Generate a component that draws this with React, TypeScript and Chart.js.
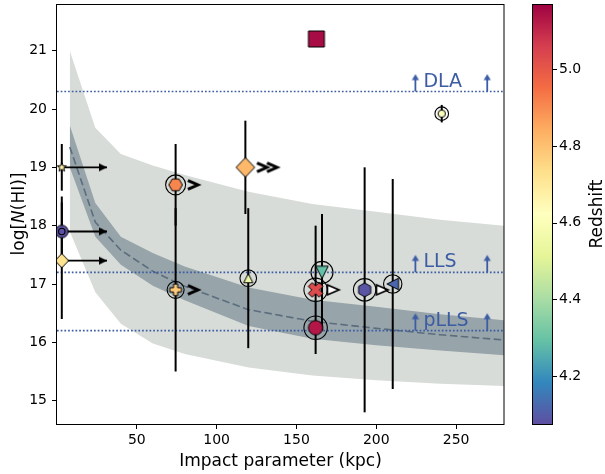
import React, { useEffect, useRef } from 'react';
import { Chart, registerables } from 'chart.js';

Chart.register(...registerables);

const FONT = "'DejaVu Sans', 'Liberation Sans', sans-serif";

// ---------------- data ----------------
const X_MIN = 0;
const X_MAX = 280;
const Y_MIN = 14.6;
const Y_MAX = 21.8;
const X_TICKS = [50, 100, 150, 200, 250];
const Y_TICKS = [15, 16, 17, 18, 19, 20, 21];
const Z_MIN = 4.075;
const Z_MAX = 5.17;
const Z_TICKS = [4.2, 4.4, 4.6, 4.8, 5.0];

// model envelope (impact parameter vs log N(HI))
const BAND_X = [8, 24, 40, 60, 80, 120, 160, 200, 240, 280];
const OUTER_UPPER = [21.0, 19.68, 19.23, 19.03, 18.87, 18.58, 18.37, 18.24, 18.1, 18.0];
const INNER_UPPER = [19.72, 18.39, 17.81, 17.53, 17.3, 16.94, 16.73, 16.61, 16.48, 16.38];
const MEDIAN_NHI = [19.35, 18.06, 17.58, 17.22, 16.96, 16.56, 16.36, 16.24, 16.13, 16.04];
const INNER_LOWER = [19.0, 17.81, 17.33, 16.97, 16.72, 16.28, 16.06, 15.95, 15.86, 15.78];
const OUTER_LOWER = [17.9, 16.86, 16.32, 15.98, 15.8, 15.57, 15.43, 15.35, 15.29, 15.25];

// galaxies / absorbers
const GAL_B = [3, 3, 3, 74.3, 118, 74.3, 119.8, 162.5, 166, 162, 162, 192.7, 210.3, 241];
const GAL_NHI = [19.0, 17.9, 17.4, 18.7, 19.0, 16.9, 17.1, 21.2, 17.2, 16.9, 16.25, 16.9, 17.0, 19.92];
const GAL_ERR = [0.4, 0.6, 1.0, 0.7, 0.8, 1.4, 1.2, 0, 1.0, 1.1, 0, 2.1, 1.8, 0.15];
const GAL_Z = [4.68, 4.08, 4.72, 4.91, 4.82, 4.78, 4.55, 5.15, 4.29, 5.03, 5.13, 4.085, 4.12, 4.61];
const ARROW_TIP_B = 31.3;

// column density thresholds
const LIMIT_NAMES = ['DLA', 'LLS', 'pLLS'];
const LIMIT_NHI = [20.3, 17.2, 16.2];
const LIMIT_ARROW_B = [224.5, 269.5];
const LIMIT_ARROW_LEN = 0.29;
const LIMIT_LABEL_B = 229.5;

// ---------------- styles ----------------
const MARKER_SHAPE = ['star', 'circle', 'diamond', 'hexFlat', 'diamond', 'plus', 'triUp', 'square', 'triDown', 'x', 'circle', 'hex', 'triLeft', 'circle'];
const MARKER_SIZE = [4.8, 6.3, 6.8, 6.8, 9.3, 5.8, 4.6, 8, 6.2, 7.3, 7.2, 7, 5.8, 3.7];
const RING_SIZE = [0, 3.2, 0, 10, 0, 8.5, 8.3, 0, 11, 11.7, 11.7, 11.2, 9.2, 6.8];
const MARKER_TAG = ['arrow', 'arrow', 'arrow', 'chev', 'chev2', 'chev', '', '', '', 'open', '', 'open', '', ''];

const LIGHT = '#d8dcd8';
const DARK = '#97a4a9';
const MEDIAN_COLOR = '#5b6d7e';
const LIMIT_COLOR = '#3c5ca4';

const SPECTRAL_R = ['#5e4fa2', '#3288bd', '#66c2a5', '#abdda4', '#e6f598', '#ffffbf', '#fee08b', '#fdae61', '#f46d43', '#d53e4f', '#9e0142'];

function hexRgb(h: string) {
  return [parseInt(h.slice(1, 3), 16), parseInt(h.slice(3, 5), 16), parseInt(h.slice(5, 7), 16)];
}

function zColor(z: number) {
  let t = (z - Z_MIN) / (Z_MAX - Z_MIN);
  t = Math.max(0, Math.min(1, t));
  const p = t * 10;
  const i = Math.min(9, Math.floor(p));
  const f = p - i;
  const a = hexRgb(SPECTRAL_R[i]);
  const b = hexRgb(SPECTRAL_R[i + 1]);
  const c = a.map((v, k) => Math.round(v + (b[k] - v) * f));
  return `rgb(${c[0]},${c[1]},${c[2]})`;
}

function makeCanvas(w: number, h: number, draw: (ctx: CanvasRenderingContext2D) => void) {
  const c = document.createElement('canvas');
  c.width = w;
  c.height = h;
  const ctx = c.getContext('2d')!;
  ctx.translate(w / 2, h / 2);
  draw(ctx);
  return c;
}

function poly(ctx: CanvasRenderingContext2D, pts: number[][]) {
  ctx.moveTo(pts[0][0], pts[0][1]);
  for (let i = 1; i < pts.length; i++) ctx.lineTo(pts[i][0], pts[i][1]);
  ctx.closePath();
}

function plusPts(a: number, w: number, rot: number) {
  const base = [[-w, -a], [w, -a], [w, -w], [a, -w], [a, w], [w, w], [w, a], [-w, a], [-w, w], [-a, w], [-a, -w], [-w, -w]];
  const c = Math.cos(rot), s = Math.sin(rot);
  return base.map(([x, y]) => [x * c - y * s, x * s + y * c]);
}

function shapePath(ctx: CanvasRenderingContext2D, shape: string, r: number) {
  ctx.beginPath();
  if (shape === 'circle') ctx.arc(0, 0, r, 0, Math.PI * 2);
  else if (shape === 'square') ctx.rect(-r, -r, 2 * r, 2 * r);
  else if (shape === 'diamond') poly(ctx, [[0, -r * 1.05], [r, 0], [0, r * 1.05], [-r, 0]]);
  else if (shape === 'hex' || shape === 'hexFlat') {
    const off = shape === 'hex' ? -90 : 0;
    const pts = [];
    for (let k = 0; k < 6; k++) {
      const a = ((off + 60 * k) * Math.PI) / 180;
      pts.push([r * Math.cos(a), r * Math.sin(a)]);
    }
    poly(ctx, pts);
  } else if (shape === 'star') {
    const pts = [];
    for (let k = 0; k < 10; k++) {
      const a = ((-90 + 36 * k) * Math.PI) / 180;
      const rr = k % 2 === 0 ? r : r * 0.42;
      pts.push([rr * Math.cos(a), rr * Math.sin(a)]);
    }
    poly(ctx, pts);
  } else if (shape === 'triUp') poly(ctx, [[0, -r], [r, r], [-r, r]]);
  else if (shape === 'triDown') poly(ctx, [[0, r], [r, -r], [-r, -r]]);
  else if (shape === 'triLeft') poly(ctx, [[-r, 0], [r, -r], [r, r]]);
  else if (shape === 'plus') poly(ctx, plusPts(r, r * 0.36, 0));
  else if (shape === 'x') {
    const a = (r * Math.SQRT2) / 1.36;
    poly(ctx, plusPts(a, a * 0.36, Math.PI / 4));
  }
}

function markerImage(shape: string, r: number, color: string) {
  const s = Math.ceil(r * 2 + 6);
  const size = s % 2 === 0 ? s : s + 1;
  return makeCanvas(size, size, (ctx) => {
    shapePath(ctx, shape, r);
    ctx.fillStyle = color;
    ctx.fill();
    ctx.lineWidth = 1;
    ctx.strokeStyle = '#000';
    ctx.lineJoin = 'miter';
    ctx.stroke();
  });
}

function tagImage(tag: string) {
  const off = tag === 'chev2' ? 21.6 : 17.3;
  const w = Math.ceil((off + 14) * 2);
  return makeCanvas(w, 20, (ctx) => {
    ctx.strokeStyle = '#000';
    ctx.lineJoin = 'miter';
    ctx.lineCap = 'butt';
    if (tag === 'chev' || tag === 'chev2') {
      ctx.lineWidth = 3;
      const centers = tag === 'chev' ? [off] : [off - 5, off + 5];
      for (const c of centers) {
        ctx.beginPath();
        ctx.moveTo(c - 5, -4.4);
        ctx.lineTo(c + 5, 0);
        ctx.lineTo(c - 5, 4.4);
        ctx.stroke();
      }
    } else {
      ctx.lineWidth = 1.8;
      ctx.beginPath();
      ctx.moveTo(off - 5.5, -5);
      ctx.lineTo(off + 6, 0);
      ctx.lineTo(off - 5.5, 5);
      ctx.closePath();
      ctx.fillStyle = '#fff';
      ctx.fill();
      ctx.stroke();
    }
  });
}

function arrowHeadRight(color: string) {
  return makeCanvas(22, 14, (ctx) => {
    ctx.beginPath();
    poly(ctx, [[0, 0], [-8, -4], [-8, 4]]);
    ctx.fillStyle = color;
    ctx.fill();
  });
}

function arrowHeadUp(color: string) {
  return makeCanvas(14, 16, (ctx) => {
    ctx.beginPath();
    poly(ctx, [[0, -0.5], [-3.6, 5.5], [3.6, 5.5]]);
    ctx.fillStyle = color;
    ctx.fill();
  });
}

const pts = (xs: number[], ys: number[]) => xs.map((x, i) => ({ x, y: ys[i] }));

function lineDs(data: any[], extra: any) {
  return {
    data,
    showLine: true,
    pointRadius: 0,
    tension: 0,
    borderWidth: 0,
    borderColor: 'rgba(0,0,0,0)',
    fill: false,
    ...extra,
  };
}

function buildDatasets() {
  const layers: any[] = [];
  // outer envelope
  layers.push(lineDs(pts(BAND_X, OUTER_LOWER), {}));
  layers.push(lineDs(pts(BAND_X, OUTER_UPPER), { fill: '-1', backgroundColor: LIGHT }));
  // inner envelope
  layers.push(lineDs(pts(BAND_X, INNER_LOWER), {}));
  layers.push(lineDs(pts(BAND_X, INNER_UPPER), { fill: '-1', backgroundColor: DARK }));
  // median
  layers.push(lineDs(pts(BAND_X, MEDIAN_NHI), { borderColor: MEDIAN_COLOR, borderWidth: 1.6, borderDash: [7.5, 3.5] }));
  // thresholds
  LIMIT_NHI.forEach((v) => {
    layers.push(lineDs([{ x: X_MIN, y: v }, { x: X_MAX, y: v }], { borderColor: LIMIT_COLOR, borderWidth: 1.7, borderDash: [1.7, 2] }));
  });
  const upHead = arrowHeadUp(LIMIT_COLOR);
  LIMIT_NHI.forEach((v) => {
    LIMIT_ARROW_B.forEach((b) => {
      layers.push(lineDs([{ x: b, y: v }, { x: b, y: v + LIMIT_ARROW_LEN - 0.05 }], { borderColor: LIMIT_COLOR, borderWidth: 1.8 }));
    });
  });
  layers.push({
    data: LIMIT_NHI.flatMap((v) => LIMIT_ARROW_B.map((b) => ({ x: b, y: v + LIMIT_ARROW_LEN }))),
    pointStyle: upHead,
    pointRadius: 5,
    showLine: false,
  });
  // error bars
  GAL_B.forEach((b, i) => {
    if (GAL_ERR[i] > 0) {
      layers.push(lineDs([{ x: b, y: GAL_NHI[i] - GAL_ERR[i] }, { x: b, y: GAL_NHI[i] + GAL_ERR[i] }], { borderColor: '#000', borderWidth: 2 }));
    }
  });
  // horizontal lower-limit arrows
  const idxArrow = GAL_B.map((_, i) => i).filter((i) => MARKER_TAG[i] === 'arrow');
  idxArrow.forEach((i) => {
    layers.push(lineDs([{ x: GAL_B[i], y: GAL_NHI[i] }, { x: ARROW_TIP_B, y: GAL_NHI[i] }], { borderColor: '#000', borderWidth: 1.8 }));
  });
  const rightHead = arrowHeadRight('#000');
  layers.push({
    data: idxArrow.map((i) => ({ x: ARROW_TIP_B, y: GAL_NHI[i] })),
    pointStyle: rightHead,
    pointRadius: 5,
    showLine: false,
  });
  // markers
  layers.push({
    data: pts(GAL_B, GAL_NHI),
    pointStyle: GAL_B.map((_, i) => markerImage(MARKER_SHAPE[i], MARKER_SIZE[i], zColor(GAL_Z[i]))),
    pointRadius: 5,
    showLine: false,
  });
  // chevron tags
  const idxTag = GAL_B.map((_, i) => i).filter((i) => MARKER_TAG[i] && MARKER_TAG[i] !== 'arrow');
  layers.push({
    data: idxTag.map((i) => ({ x: GAL_B[i], y: GAL_NHI[i] })),
    pointStyle: idxTag.map((i) => tagImage(MARKER_TAG[i])),
    pointRadius: 5,
    showLine: false,
  });
  // rings
  const idxRing = GAL_B.map((_, i) => i).filter((i) => RING_SIZE[i] > 0);
  layers.push({
    data: idxRing.map((i) => ({ x: GAL_B[i], y: GAL_NHI[i] })),
    pointStyle: 'circle',
    pointRadius: idxRing.map((i) => RING_SIZE[i]),
    pointBackgroundColor: 'rgba(0,0,0,0)',
    pointBorderColor: '#000',
    pointBorderWidth: 1.1,
    showLine: false,
  });
  layers.forEach((d, i) => {
    d.order = layers.length - i;
  });
  return layers;
}

const overlayPlugin = {
  id: 'overlay',
  afterDraw(chart: any) {
    const { ctx, chartArea: a } = chart;
    const xs = chart.scales.x;
    const ys = chart.scales.y;
    ctx.save();
    // frame
    ctx.strokeStyle = '#000';
    ctx.lineWidth = 1;
    ctx.strokeRect(a.left - 0.5, a.top + 0.5, a.right - a.left + 0.5, a.bottom - a.top);

    // threshold labels
    ctx.fillStyle = LIMIT_COLOR;
    ctx.font = `19px ${FONT}`;
    ctx.textAlign = 'left';
    ctx.textBaseline = 'alphabetic';
    LIMIT_NAMES.forEach((n, i) => {
      ctx.fillText(n, xs.getPixelForValue(LIMIT_LABEL_B), ys.getPixelForValue(LIMIT_NHI[i]) - 5);
    });

    // x title
    ctx.fillStyle = '#000';
    ctx.font = `17px ${FONT}`;
    ctx.textAlign = 'center';
    ctx.fillText('Impact parameter (kpc)', (a.left + a.right) / 2, 466);

    // y title with italic N
    const midY = (a.top + a.bottom) / 2;
    ctx.save();
    ctx.translate(24, midY);
    ctx.rotate(-Math.PI / 2);
    const parts: [string, boolean][] = [['log[', false], ['N', true], ['(HI)]', false]];
    let total = 0;
    const widths = parts.map(([t, it]) => {
      ctx.font = `${it ? 'italic ' : ''}17px ${FONT}`;
      const w = ctx.measureText(t).width;
      total += w;
      return w;
    });
    let cx = -total / 2;
    ctx.textAlign = 'left';
    parts.forEach(([t, it], i) => {
      ctx.font = `${it ? 'italic ' : ''}17px ${FONT}`;
      ctx.fillText(t, cx, 0);
      cx += widths[i];
    });
    ctx.restore();

    // colorbar
    const cbL = 532, cbR = 552;
    const grad = ctx.createLinearGradient(0, a.bottom, 0, a.top);
    SPECTRAL_R.forEach((c, i) => grad.addColorStop(i / 10, c));
    ctx.fillStyle = grad;
    ctx.fillRect(cbL, a.top, cbR - cbL, a.bottom - a.top);
    ctx.strokeStyle = '#000';
    ctx.lineWidth = 1;
    ctx.strokeRect(cbL + 0.5, a.top + 0.5, cbR - cbL, a.bottom - a.top);
    ctx.fillStyle = '#000';
    ctx.font = `14px ${FONT}`;
    ctx.textAlign = 'left';
    ctx.textBaseline = 'middle';
    Z_TICKS.forEach((z) => {
      const py = a.bottom - ((z - Z_MIN) / (Z_MAX - Z_MIN)) * (a.bottom - a.top);
      ctx.beginPath();
      ctx.moveTo(cbR + 0.5, Math.round(py) + 0.5);
      ctx.lineTo(cbR + 5, Math.round(py) + 0.5);
      ctx.stroke();
      ctx.fillText(z.toFixed(1), cbR + 7, py);
    });
    ctx.save();
    ctx.translate(602, midY);
    ctx.rotate(-Math.PI / 2);
    ctx.textAlign = 'center';
    ctx.textBaseline = 'alphabetic';
    ctx.font = `17px ${FONT}`;
    ctx.fillText('Redshift', 0, 0);
    ctx.restore();

    ctx.restore();
  },
};

export default function App() {
  const ref = useRef<HTMLCanvasElement>(null);
  useEffect(() => {
    const canvas = ref.current!;
    Chart.defaults.font.family = FONT;
    const tickGrid = { display: true, drawOnChartArea: false, drawTicks: true, tickLength: 5, tickWidth: 1, tickColor: '#000' };
    const zeroPad = (s: any) => {
      s.paddingTop = 0;
      s.paddingBottom = 0;
      s.paddingLeft = 0;
      s.paddingRight = 0;
    };
    const chart = new Chart(canvas, {
      type: 'scatter',
      data: { datasets: buildDatasets() as any },
      options: {
        animation: false,
        responsive: false,
        maintainAspectRatio: false,
        devicePixelRatio: 1,
        events: [],
        layout: { autoPadding: false, padding: { left: 0, top: 4, right: 101, bottom: 0 } },
        plugins: { legend: { display: false }, tooltip: { enabled: false } },
        scales: {
          x: {
            type: 'linear',
            min: X_MIN,
            max: X_MAX,
            afterFit: (s: any) => {
              s.height = 50;
              zeroPad(s);
            },
            afterBuildTicks: (s: any) => {
              s.ticks = X_TICKS.map((v) => ({ value: v }));
            },
            grid: tickGrid,
            border: { display: false },
            ticks: { padding: 3, color: '#000', font: { size: 14, family: FONT } },
          },
          y: {
            type: 'linear',
            min: Y_MIN,
            max: Y_MAX,
            afterFit: (s: any) => {
              s.width = 57;
              zeroPad(s);
            },
            afterBuildTicks: (s: any) => {
              s.ticks = Y_TICKS.map((v) => ({ value: v }));
            },
            grid: tickGrid,
            border: { display: false },
            ticks: { padding: 5, color: '#000', font: { size: 14, family: FONT } },
          },
        },
      } as any,
      plugins: [overlayPlugin],
    });
    return () => chart.destroy();
  }, []);
  return (
    <div style={{ position: 'absolute', left: 0, top: 0, width: 605, height: 474, background: '#fff' }}>
      <canvas ref={ref} width={605} height={474} style={{ display: 'block', width: 605, height: 474 }} />
    </div>
  );
}
